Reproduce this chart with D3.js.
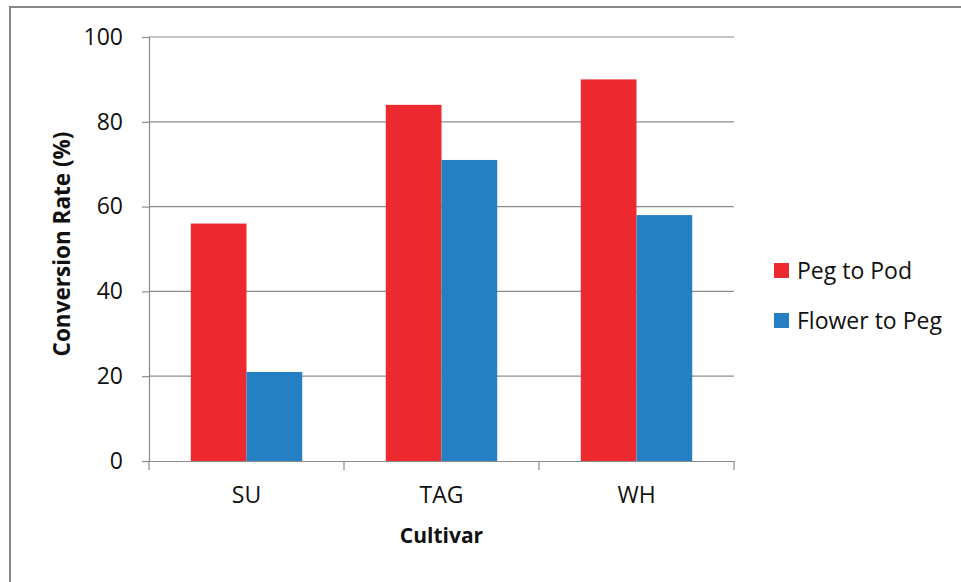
<!DOCTYPE html>
<html>
<head>
<meta charset="utf-8">
<script src="https://cdn.jsdelivr.net/npm/d3@7"></script>
<style>
  html, body { margin: 0; padding: 0; background: #fff; }
  text { font-family: "Open Sans", "Noto Sans", sans-serif; fill: #111; }
</style>
</head>
<body>
<div id="chart"></div>
<script>
// Data
const categories = ["SU", "TAG", "WH"];
const seriesNames = ["Peg to Pod", "Flower to Peg"];
const pegToPod = [56, 84, 90];
const flowerToPeg = [21, 71, 58];
const yTicks = [0, 20, 40, 60, 80, 100];
const colors = ["#ed2a2f", "#2480c2"];

const width = 961, height = 582;
const plot = { left: 149, right: 734, top: 37, bottom: 461 };

const svg = d3.select("#chart").append("svg")
  .attr("width", width)
  .attr("height", height);

// outer frame (chart area border)
svg.append("rect")
  .attr("x", 10).attr("y", 7)
  .attr("width", 1000).attr("height", 1000)
  .attr("fill", "none")
  .attr("stroke", "#878787")
  .attr("stroke-width", 2);

const x0 = d3.scaleBand().domain(categories).range([plot.left, plot.right]);
const x1 = d3.scaleBand().domain(seriesNames)
  .range([0, x0.bandwidth()])
  .paddingInner(0)
  .paddingOuter(0.75);
const y = d3.scaleLinear().domain([0, 100]).range([plot.bottom, plot.top]);

// gridlines
svg.append("g")
  .selectAll("line")
  .data(yTicks.filter(d => d > 0))
  .enter()
  .append("line")
  .attr("x1", plot.left).attr("x2", plot.right)
  .attr("y1", d => y(d)).attr("y2", d => y(d))
  .attr("stroke", "#8c8c8c")
  .attr("stroke-width", 1.2);

// bars
const data = categories.map((c, i) => ({ cat: c, vals: [pegToPod[i], flowerToPeg[i]] }));
const groups = svg.append("g")
  .selectAll("g")
  .data(data)
  .enter()
  .append("g")
  .attr("transform", d => `translate(${x0(d.cat)},0)`);

groups.selectAll("rect")
  .data(d => d.vals.map((v, j) => ({ name: seriesNames[j], value: v, j })))
  .enter()
  .append("rect")
  .attr("x", d => x1(d.name))
  .attr("width", x1.bandwidth())
  .attr("y", d => y(d.value))
  .attr("height", d => y(0) - y(d.value))
  .attr("fill", d => colors[d.j]);

// y axis
const yAxis = svg.append("g")
  .attr("transform", `translate(${plot.left},0)`)
  .call(d3.axisLeft(y).tickValues(yTicks).tickSize(7).tickPadding(19));
yAxis.selectAll("path, line").attr("stroke", "#8c8c8c").attr("stroke-width", 1.2);
yAxis.selectAll("text").style("font-size", "23px").attr("fill", "#111")
  .style("font-family", "'Open Sans', sans-serif");

// x axis
const xAxis = svg.append("g")
  .attr("transform", `translate(0,${plot.bottom})`)
  .call(d3.axisBottom(x0).tickSize(0).tickPadding(26));
xAxis.select(".domain").attr("stroke", "#8c8c8c").attr("stroke-width", 1.2);
xAxis.selectAll("text").style("font-size", "23px").attr("fill", "#111")
  .style("font-family", "'Open Sans', sans-serif");

// category separator ticks
svg.append("g")
  .selectAll("line")
  .data(categories.map(c => x0(c)).concat([x0(categories[categories.length - 1]) + x0.bandwidth()]))
  .enter()
  .append("line")
  .attr("x1", d => d).attr("x2", d => d)
  .attr("y1", plot.bottom).attr("y2", plot.bottom + 9)
  .attr("stroke", "#8c8c8c")
  .attr("stroke-width", 1.2);

// axis titles
svg.append("text")
  .attr("x", (plot.left + plot.right) / 2)
  .attr("y", 543)
  .attr("text-anchor", "middle")
  .style("font-size", "21px")
  .style("font-weight", "bold")
  .text("Cultivar");

svg.append("text")
  .attr("transform", `translate(70,244) rotate(-90)`)
  .attr("text-anchor", "middle")
  .style("font-size", "22.5px")
  .style("font-weight", "bold")
  .text("Conversion Rate (%)");

// legend
const legend = svg.append("g")
  .selectAll("g")
  .data(seriesNames)
  .enter()
  .append("g")
  .attr("transform", (d, i) => `translate(774,${263 + i * 50})`);

legend.append("rect")
  .attr("width", 15).attr("height", 15)
  .attr("fill", (d, i) => colors[i]);

legend.append("text")
  .attr("x", 23)
  .attr("y", 16)
  .style("font-size", "23px")
  .text(d => d);
</script>
</body>
</html>
